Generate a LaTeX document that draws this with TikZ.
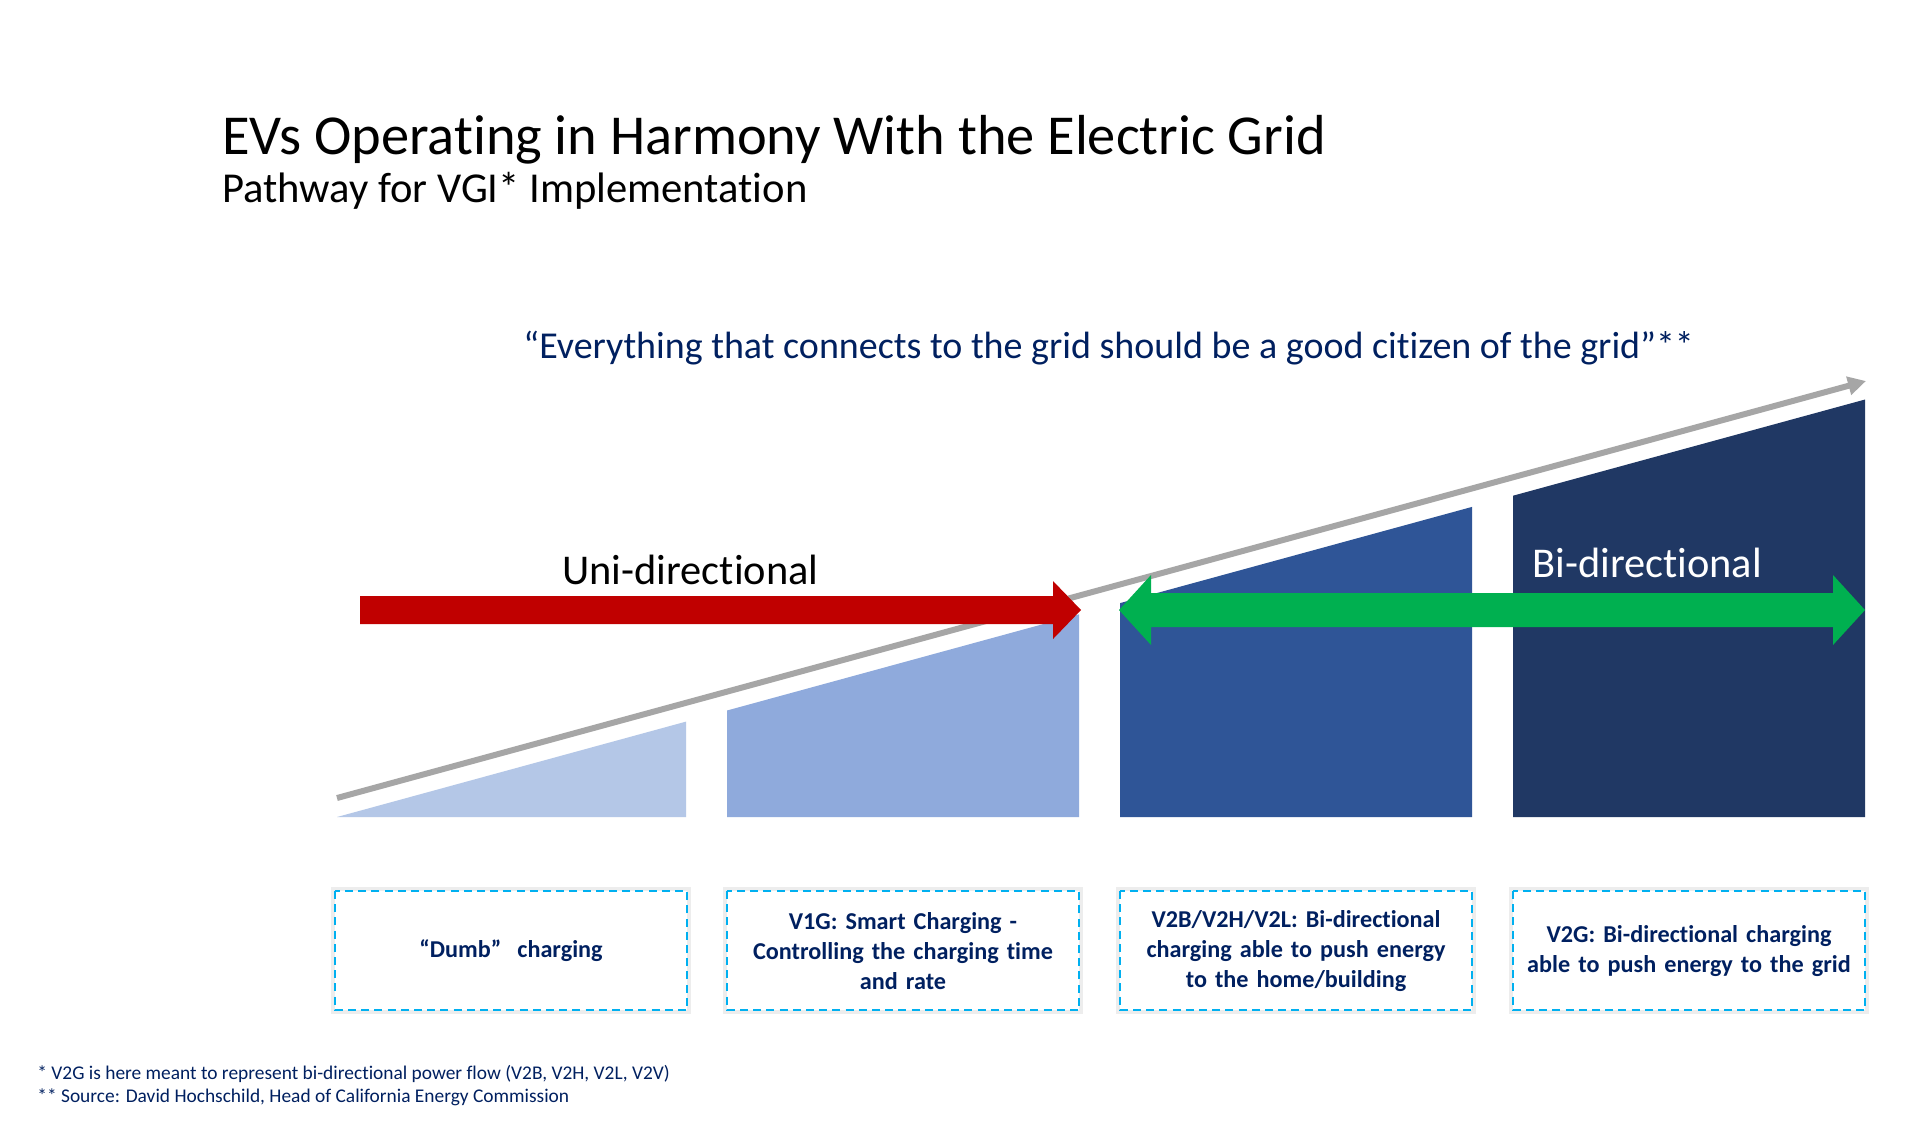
\documentclass[tikz,border=0pt]{standalone}
\usepackage{fontspec}
\usetikzlibrary{arrows.meta}
\setmainfont{Carlito}[Ligatures=NoCommon]
\definecolor{navy}{HTML}{002060}
\definecolor{sA}{HTML}{B4C7E7}
\definecolor{sB}{HTML}{8FAADC}
\definecolor{sC}{HTML}{2F5597}
\definecolor{sD}{HTML}{203864}
\definecolor{redA}{HTML}{C00000}
\definecolor{greenA}{HTML}{00B050}
\definecolor{grayA}{HTML}{A6A6A6}
\definecolor{cyanA}{HTML}{00B0F0}
\tikzset{
  boxglow/.style={draw=black, opacity=0.07, line width=4pt},
  dashbox/.style={draw=cyanA, line width=1.3pt, dash pattern=on 4pt off 2.6pt},
  boxtext/.style={font=\bfseries\fontsize{12.1}{14.8}\selectfont, text=navy, align=center, text width=172pt, inner sep=0pt},
  foot/.style={font=\fontsize{9.7}{11.5}\selectfont, text=navy, anchor=base west, inner sep=0pt},
}
\begin{document}
\begin{tikzpicture}[x=0.5pt,y=-0.5pt]
\useasboundingbox (0,0) rectangle (1920,1137);
\fill[white] (0,0) rectangle (1920,1137);
% titles
\node[anchor=base west, inner sep=0pt, font=\fontsize{28.2}{34}\selectfont] (title) at (222,154) {EVs Operating in Harmony With the Electric Grid};
\node[anchor=base west, inner sep=0pt, font=\fontsize{21.3}{26}\selectfont] (subtitle) at (222,202) {Pathway for VGI* Implementation};
\node[anchor=base west, inner sep=0pt, text=navy, font=\fontsize{19}{24}\selectfont] (quote) at (523,358) {“Everything that connects to the grid should be a good citizen of the grid”**};
% shapes: top edge y = 817 - 0.2732*(x-337)
\fill[sA] (337,817) -- (686,721.6) -- (686,817) -- cycle;
\fill[sB] (727,817) -- (727,710.5) -- (1079,614.3) -- (1079,817) -- cycle;
\fill[sC] (1120,817) -- (1120,603.1) -- (1472,506.9) -- (1472,817) -- cycle;
\fill[sD] (1513,817) -- (1513,495.7) -- (1865,399.5) -- (1865,817) -- cycle;
% gray trend arrow
\coordinate (gs) at (337,798);
\coordinate (ge) at (1866,381);
\draw[grayA, line width=3pt, -{Triangle[length=9pt,width=9pt]}] (gs) -- (ge);
% red arrow
\fill[redA] (360,596) -- (1053,596) -- (1053,581) -- (1081,610) -- (1053,639) -- (1053,624) -- (360,624) -- cycle;
\node[anchor=base west, inner sep=0pt, font=\fontsize{21.2}{26}\selectfont] (uni) at (562,584) {Uni-directional};
% green arrow
\fill[greenA] (1119,610) -- (1151,575) -- (1151,593) -- (1833,593) -- (1833,575) -- (1865,610) -- (1833,645) -- (1833,627) -- (1151,627) -- (1151,645) -- cycle;
\node[anchor=base west, inner sep=0pt, text=white, font=\fontsize{21.2}{26}\selectfont] (bi) at (1532,577) {Bi-directional};
% boxes
\foreach \xa/\xb/\nm in {335/687/b1, 727/1079/b2, 1120/1472/b3, 1513/1865/b4}{
  \draw[boxglow] (\xa,891) rectangle (\xb,1010);
  \draw[dashbox, fill=white] (\xa,891) rectangle (\xb,1010);
}
\node[boxtext] (t1) at (511,951) {“Dumb”\ \ charging};
\node[boxtext] (t2) at (903,951) {V1G: Smart Charging -\\Controlling the charging time\\and rate};
\node[boxtext] (t3) at (1296,951) {V2B/V2H/V2L: Bi-directional\\charging able to push energy\\to the home/building};
\node[boxtext] (t4) at (1689,951) {V2G: Bi-directional charging\\able to push energy to the grid};
% footnotes
\node[foot] (f1) at (37,1079) {* V2G is here meant to represent bi-directional power flow (V2B, V2H, V2L, V2V)};
\node[foot] (f2) at (37,1102) {** Source: David Hochschild, Head of California Energy Commission};
\end{tikzpicture}
\end{document}
